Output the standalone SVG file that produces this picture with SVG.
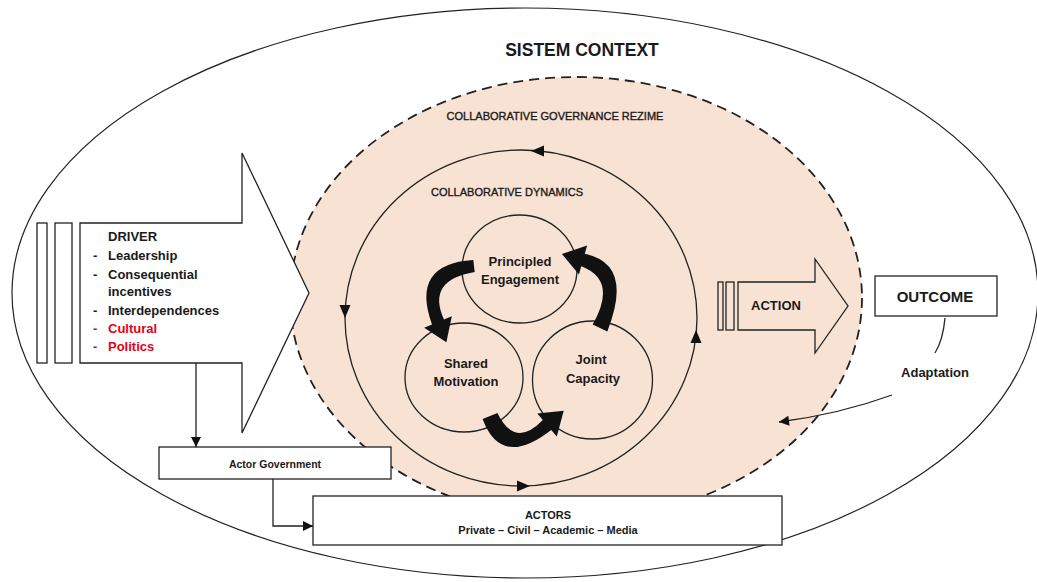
<svg xmlns="http://www.w3.org/2000/svg" width="1037" height="582" viewBox="0 0 1037 582">
<style>
.ln{fill:none;stroke:#222;stroke-width:1.3}
.box{fill:#fff;stroke:#222;stroke-width:1.3}
.t{font-family:"Liberation Sans",Arial,sans-serif;fill:#1a1a1a}
.b{font-weight:bold}
.semi{stroke:#1a1a1a;stroke-width:0.35}
.red{fill:#e3001b}
.blk{fill:#111;stroke:none}
</style>
<defs>
<marker id="ah" viewBox="0 0 10 10" refX="10" refY="5" markerWidth="11" markerHeight="10" markerUnits="userSpaceOnUse" orient="auto">
<path d="M0,0 L10,5 L0,10 Z" fill="#111"/>
</marker>
</defs>
<g id="system-context">
<ellipse cx="525" cy="293" rx="513" ry="285" fill="#fff" stroke="#222" stroke-width="1.2"/>
<text class="t b" x="582" y="56" font-size="17.5" text-anchor="middle">SISTEM CONTEXT</text>
</g>
<g id="governance-regime">
<ellipse cx="576" cy="298" rx="286" ry="221" fill="#f8e2d3" stroke="#222" stroke-width="1.8" stroke-dasharray="10 6"/>
<text class="t semi" x="555" y="120" font-size="11" text-anchor="middle">COLLABORATIVE GOVERNANCE REZIME</text>
</g>
<g id="collaborative-dynamics">
<ellipse class="ln" cx="521" cy="318" rx="176" ry="168"/>
<polygon class="blk" points="531,151 544,145.5 544,156.5"/>
<polygon class="blk" points="345,318 339.5,305 350.5,305"/>
<polygon class="blk" points="696,330 690.5,343 701.5,343"/>
<polygon class="blk" points="530,486 517,480.5 517,491.5"/>
<text class="t semi" x="507" y="196" font-size="11" text-anchor="middle">COLLABORATIVE DYNAMICS</text>
</g>
<g id="principled-engagement">
<ellipse class="ln" cx="519.5" cy="269" rx="57.5" ry="54"/>
<text class="t b" x="520" y="266" font-size="13" text-anchor="middle">Principled</text>
<text class="t b" x="520" y="284" font-size="13" text-anchor="middle">Engagement</text>
</g>
<g id="shared-motivation">
<ellipse class="ln" cx="464" cy="377.5" rx="59" ry="54.5"/>
<text class="t b" x="466" y="368" font-size="13" text-anchor="middle">Shared</text>
<text class="t b" x="466" y="386" font-size="13" text-anchor="middle">Motivation</text>
</g>
<g id="joint-capacity">
<ellipse class="ln" cx="592.5" cy="380" rx="60" ry="59"/>
<text class="t b" x="591" y="364" font-size="13" text-anchor="middle">Joint</text>
<text class="t b" x="593" y="383" font-size="13" text-anchor="middle">Capacity</text>
</g>
<g id="driver">
<rect class="box" x="37" y="223" width="10" height="140"/>
<rect class="box" x="55" y="223" width="17" height="140"/>
<polygon class="box" points="80,223 242,223 242,153 309,293 242,433 242,363 80,363"/>
<text class="t b" x="108" y="241" font-size="13">DRIVER</text>
<g class="t b" font-size="13">
<text x="93" y="259.5">-</text><text x="108" y="259.5">Leadership</text>
<text x="93" y="279">-</text><text x="108" y="279">Consequential</text>
<text x="108" y="296">incentives</text>
<text x="93" y="314.5">-</text><text x="108" y="314.5">Interdependences</text>
<text class="red" x="93" y="333">-</text><text class="red" x="108" y="333">Cultural</text>
<text class="red" x="93" y="351">-</text><text class="red" x="108" y="351">Politics</text>
</g>
</g>
<g id="action">
<rect class="ln" x="718" y="282" width="5" height="48"/>
<rect class="ln" x="726" y="282" width="8" height="48"/>
<polygon class="ln" points="738,282 815,282 815,259 848,306 815,353 815,330 738,330"/>
<text class="t b" x="776" y="310" font-size="13" text-anchor="middle">ACTION</text>
</g>
<g id="outcome">
<rect class="box" x="875" y="276" width="122" height="40"/>
<text class="t b" x="935" y="302" font-size="15" text-anchor="middle">OUTCOME</text>
</g>
<g id="adaptation">
<text class="t b" x="935" y="377" font-size="13" text-anchor="middle">Adaptation</text>
</g>
<g id="actor-government">
<rect class="box" x="159" y="447" width="232" height="32"/>
<text class="t b" x="275" y="468" font-size="10.5" text-anchor="middle">Actor Government</text>
</g>
<g id="actors">
<rect class="box" x="313" y="496" width="469" height="49"/>
<text class="t b" x="548" y="519" font-size="11" text-anchor="middle">ACTORS</text>
<text class="t b" x="548" y="534" font-size="11" text-anchor="middle">Private – Civil – Academic – Media</text>
</g>
<g id="connectors">
<path class="blk" d="M473.3,260.1 Q410,264 432,324.5 L424.2,327.7 L446.4,342.2 L451.8,316.3 L444,319.5 Q426,280 474.7,271.9 Z"/>
<path class="blk" d="M482.6,419.1 Q501,469 551.2,429.9 L556.8,436.4 L563.7,410.7 L537.3,413.6 L542.8,420.1 Q515,449 497.4,412.9 Z"/>
<path class="blk" d="M607.3,331.4 Q634,264 584.8,253.8 L587.1,245.6 L561.9,254.1 L579,274.4 L581.2,266.2 Q618,280 592.7,324.6 Z"/>
<path class="ln" d="M196,363 L196,447" marker-end="url(#ah)"/>
<path class="ln" d="M273,479 L273,526 L313,526" marker-end="url(#ah)"/>
<path class="ln" d="M945,318 Q943,340 935,353"/>
<path class="ln" d="M892,395 Q840,414 779,422" marker-end="url(#ah)"/>
</g>
</svg>
